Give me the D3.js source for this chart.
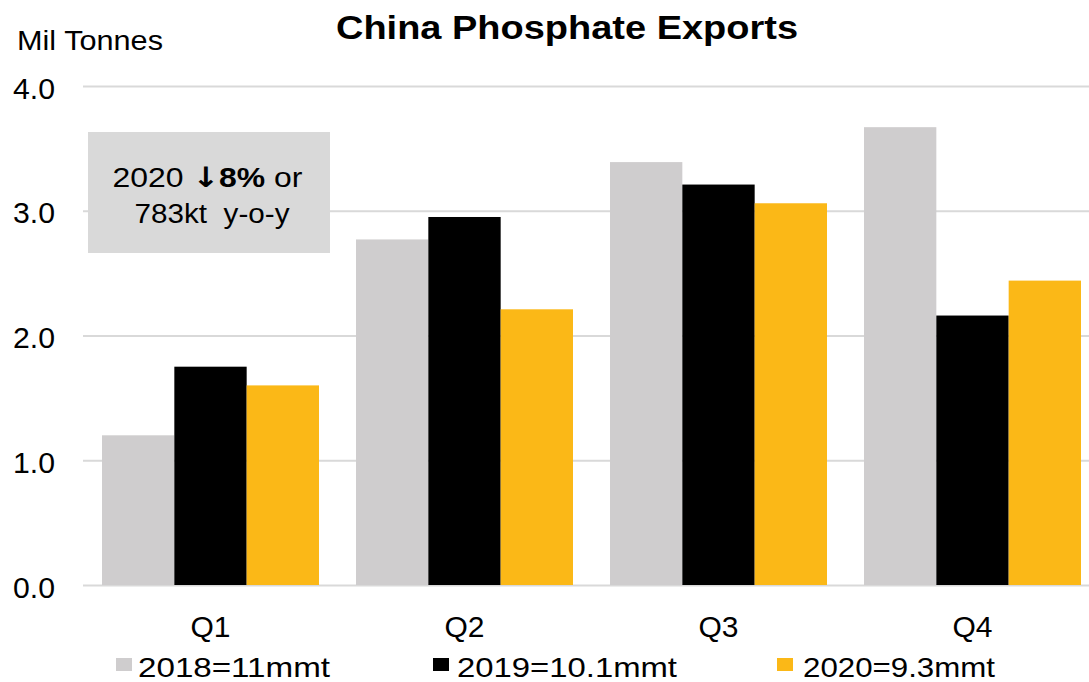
<!DOCTYPE html>
<html>
<head>
<meta charset="utf-8">
<script src="https://cdn.jsdelivr.net/npm/d3@7"></script>
<style>
  html, body { margin: 0; padding: 0; background: #fff; }
  svg { display: block; font-family: "Liberation Sans", Arial, sans-serif; }
</style>
</head>
<body>
<svg id="chart" width="1089" height="682"></svg>
<script>
// Quarterly phosphate exports, million tonnes
const quarters = ["Q1", "Q2", "Q3", "Q4"];
const seriesNames = ["2018", "2019", "2020"];
const legendLabels = ["2018=11mmt", "2019=10.1mmt", "2020=9.3mmt"];
const values2018 = [1.20, 2.77, 3.39, 3.67];
const values2019 = [1.75, 2.95, 3.21, 2.16];
const values2020 = [1.60, 2.21, 3.06, 2.44];
const yTicks = [0, 1, 2, 3, 4];
const colors = ["#CFCDCE", "#000000", "#FBB817"];

const seriesValues = [values2018, values2019, values2020];
const svg = d3.select("#chart");

const x0 = d3.scaleBand()
  .domain(quarters)
  .range([83.5, 1099.5])
  .paddingInner(37 / 254)
  .paddingOuter(18.5 / 254);

const x1 = d3.scaleBand()
  .domain(seriesNames)
  .range([0, x0.bandwidth()]);

const y = d3.scaleLinear().domain([0, 4]).range([585, 86]);

// Gridlines
const grid = svg.append("g")
  .attr("transform", "translate(83,0)")
  .call(d3.axisLeft(y).tickValues(yTicks).tickSize(-1006).tickFormat(""));
grid.select(".domain").remove();
grid.selectAll("line").attr("stroke", "#D9D9D9").attr("stroke-width", 2);

// Y tick labels
const yAxis = svg.append("g")
  .attr("transform", "translate(55,0)")
  .call(d3.axisLeft(y).tickValues(yTicks).tickSize(0).tickPadding(0).tickFormat(d3.format(".1f")));
yAxis.select(".domain").remove();
yAxis.selectAll("text")
  .attr("dy", null)
  .attr("y", 12)
  .attr("font-size", 29)
  .attr("fill", "#000")
  .attr("font-family", "'Liberation Sans', Arial, sans-serif")
  .attr("textLength", 42)
  .attr("lengthAdjust", "spacingAndGlyphs");

// Bars
const rows = quarters.map((q, i) => ({
  q, vals: seriesNames.map((s, j) => ({ s, j, v: seriesValues[j][i] }))
}));

const groups = svg.append("g").selectAll("g")
  .data(rows).join("g")
  .attr("transform", d => `translate(${x0(d.q)},0)`);

groups.selectAll("rect")
  .data(d => d.vals).join("rect")
  .attr("x", d => x1(d.s))
  .attr("width", x1.bandwidth())
  .attr("y", d => y(d.v))
  .attr("height", d => y(0) - y(d.v))
  .attr("fill", d => colors[d.j]);

// X category labels
svg.append("g").selectAll("text")
  .data(quarters).join("text")
  .attr("x", d => x0(d) + x0.bandwidth() / 2)
  .attr("y", 637)
  .attr("text-anchor", "middle")
  .attr("font-size", 29)
  .attr("textLength", 40)
  .attr("lengthAdjust", "spacingAndGlyphs")
  .text(d => d);

// Title and unit label
svg.append("text")
  .attr("x", 567).attr("y", 39)
  .attr("text-anchor", "middle")
  .attr("font-size", 34).attr("font-weight", "bold")
  .attr("textLength", 462).attr("lengthAdjust", "spacingAndGlyphs")
  .text("China Phosphate Exports");

svg.append("text")
  .attr("x", 17).attr("y", 50)
  .attr("font-size", 28)
  .attr("textLength", 146).attr("lengthAdjust", "spacingAndGlyphs")
  .text("Mil Tonnes");

// Annotation box
svg.append("rect")
  .attr("x", 88).attr("y", 132)
  .attr("width", 242).attr("height", 121)
  .attr("fill", "#D9D9D9");

// Stretch a text node horizontally so it spans the given width, centred on cx
function fitCentered(textSel, cx, baseline, width) {
  const w = textSel.node().getBBox().width;
  textSel.attr("text-anchor", "middle").attr("x", 0).attr("y", 0)
    .attr("transform", `translate(${cx},${baseline}) scale(${width / w},1)`);
}

const line1 = svg.append("text").attr("font-size", 28).style("white-space", "pre");
line1.append("tspan").text("2020 ");
line1.append("tspan").attr("font-weight", "bold")
  .attr("font-family", "'DejaVu Sans', sans-serif").attr("font-size", 28).text("\u2193");
line1.append("tspan").attr("font-weight", "bold").text("8%");
line1.append("tspan").text(" or");
fitCentered(line1, 207.5, 187, 190);

const line2 = svg.append("text").attr("font-size", 28).style("white-space", "pre").text("783kt  y-o-y");
fitCentered(line2, 212, 223, 155);

// Legend
const legendSquareX = [116, 433, 777];
const legendTextX = [138, 457, 803];
const legendTextW = [192, 220, 192];
const legend = svg.append("g");
legend.selectAll("rect")
  .data(legendLabels).join("rect")
  .attr("x", (d, i) => legendSquareX[i])
  .attr("y", 658)
  .attr("width", 16).attr("height", 13)
  .attr("fill", (d, i) => colors[i]);
legend.selectAll("text")
  .data(legendLabels).join("text")
  .attr("x", (d, i) => legendTextX[i])
  .attr("y", 677)
  .attr("font-size", 28)
  .attr("textLength", (d, i) => legendTextW[i])
  .attr("lengthAdjust", "spacingAndGlyphs")
  .text(d => d);
</script>
</body>
</html>
